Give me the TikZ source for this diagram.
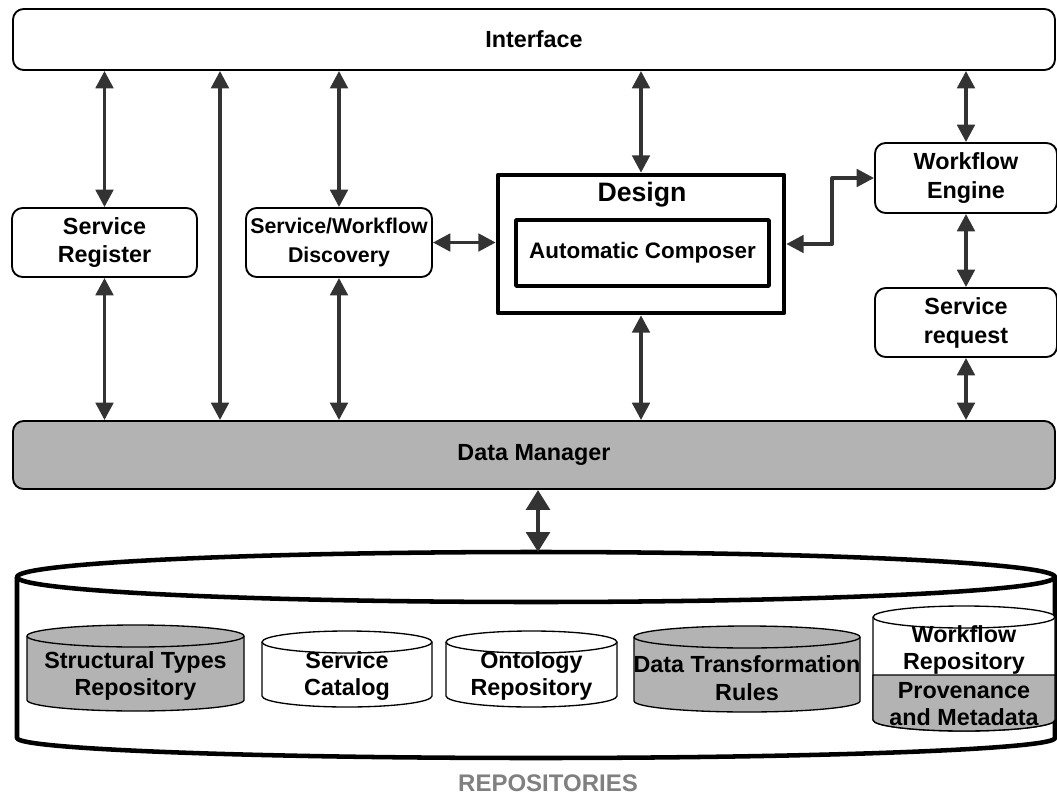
\documentclass[tikz,border=0pt]{standalone}
\usepackage{fontspec}
\setmainfont{Liberation Sans}
\usetikzlibrary{arrows.meta}
\definecolor{linkgray}{HTML}{333333}
\definecolor{fillgray}{HTML}{B3B3B3}
\definecolor{titlegray}{HTML}{808080}
\def\pxu{0.75pt}
\def\cylry{11}

\begin{document}
\begin{tikzpicture}[x=\pxu, y=-\pxu, line join=round,
    every node/.style={align=center, inner sep=0pt, font=\fontsize{17.5}{21.7}\selectfont\bfseries},
    module/.style={draw, fill=white, rounded corners=8pt, line width=1.4pt},
    link/.style={draw=linkgray, line width=2.8pt, {Triangle[width=13pt,length=13pt]}-{Triangle[width=13pt,length=13pt]}},
    biglink/.style={draw=linkgray, line width=3.6pt, {Triangle[width=17.5pt,length=15pt]}-{Triangle[width=17.5pt,length=15pt]}},
    repotext/.style={font=\fontsize{17.5}{20.5}\selectfont\bfseries}]
  \useasboundingbox (0,0) rectangle (1057,796);
  \node[module, minimum width=1042*\pxu, minimum height=61*\pxu] (iface) at (534,39.5) {Interface};
  \node[module, minimum width=185*\pxu, minimum height=69*\pxu] (sreg) at (104.5,242.5) {Service\\Register};
  \node[module, minimum width=186*\pxu, minimum height=69*\pxu,
        font=\fontsize{16}{21.7}\selectfont\bfseries] (disc) at (339,242.5) {Service/Workflow\\Discovery};
  \node[draw, line width=3.4pt, minimum width=286*\pxu, minimum height=138*\pxu] (design) at (641,244) {};
  \node[font=\fontsize{20}{24}\selectfont\bfseries] (designtitle) at (642,195) {Design};
  \node[draw, line width=2.6pt, minimum width=253*\pxu, minimum height=66*\pxu,
        font=\fontsize{16.8}{20}\selectfont\bfseries] (composer) at (642.5,253) {Automatic Composer};
  \node[module, minimum width=182*\pxu, minimum height=70*\pxu] (engine) at (966,178) {Workflow\\Engine};
  \node[module, minimum width=182*\pxu, minimum height=69*\pxu] (sreq) at (966,322.5) {Service\\request};
  \node[module, fill=fillgray, minimum width=1042*\pxu, minimum height=68*\pxu] (dm) at (534,455) {Data Manager};
  \coordinate (midline) at (220,0);
  \coordinate (repotop) at (538,552);
  %
  \draw[link] (iface.south -| sreg.north) -- (sreg.north);
  \draw[link] (sreg.south) -- (sreg.south |- dm.north);
  \draw[link] (midline |- iface.south) -- (midline |- dm.north);
  \draw[link] (iface.south -| disc.north) -- (disc.north);
  \draw[link] (disc.south) -- (disc.south |- dm.north);
  \draw[link] (disc.east) -- (disc.east -| design.west);
  \draw[link] (iface.south -| design.north) -- (design.north);
  \draw[link] (design.south) -- (design.south |- dm.north);
  \draw[link] (design.east) -- ++(46,0) |- (engine.west);
  \draw[link] (iface.south -| engine.north) -- (engine.north);
  \draw[link] (engine.south) -- (sreq.north);
  \draw[link] (sreq.south) -- (sreq.south |- dm.north);
  %
  \draw[line width=3.4pt] (17,577) -- (17,738) arc[start angle=180, end angle=0, x radius=519, y radius=20] -- (1055,577);
  \draw[line width=3.4pt] (536,577) ellipse[x radius=519, y radius=25];
  \draw[biglink] (dm.south -| repotop) -- (repotop);
  %
  \foreach \cx/\rx/\yt/\yb/\col in {135.5/108.5/636/700/fillgray, 347/85/642/696/white,
                                    531.5/85.5/642/696/white, 747/113/637/701/fillgray, 964/91/617/720/white}{%
    \filldraw[fill=\col, line width=1pt] (\cx-\rx,\yt) -- (\cx-\rx,\yb)
      arc[start angle=180, end angle=0, x radius=\rx, y radius=\cylry] -- (\cx+\rx,\yt)
      arc[start angle=0, end angle=-180, x radius=\rx, y radius=\cylry] -- cycle;
    \draw[line width=1pt] (\cx-\rx,\yt) arc[start angle=180, end angle=0, x radius=\rx, y radius=\cylry];}
  \filldraw[fill=fillgray, line width=1pt] (873,675) -- (873,720)
    arc[start angle=180, end angle=0, x radius=91, y radius=\cylry] -- (1055,675) -- cycle;
  %
  \begin{scope}[every node/.style={repotext, align=center, inner sep=0pt}]
    \node (structrepo) at (135.5,676) {Structural Types\\Repository};
    \node (catalog) at (347,676) {Service\\Catalog};
    \node (ontology) at (531.5,676) {Ontology\\Repository};
    \node (transrules) at (747,678) {Data Transformation\\Rules};
    \node (wfrepo) at (964,650) {Workflow\\Repository};
    \node (provenance) at (964,704) {Provenance\\and Metadata};
  \end{scope}
  \node[text=titlegray, font=\fontsize{18}{21}\selectfont\bfseries] (repolabel) at (548,783) {REPOSITORIES};
\end{tikzpicture}
\end{document}
